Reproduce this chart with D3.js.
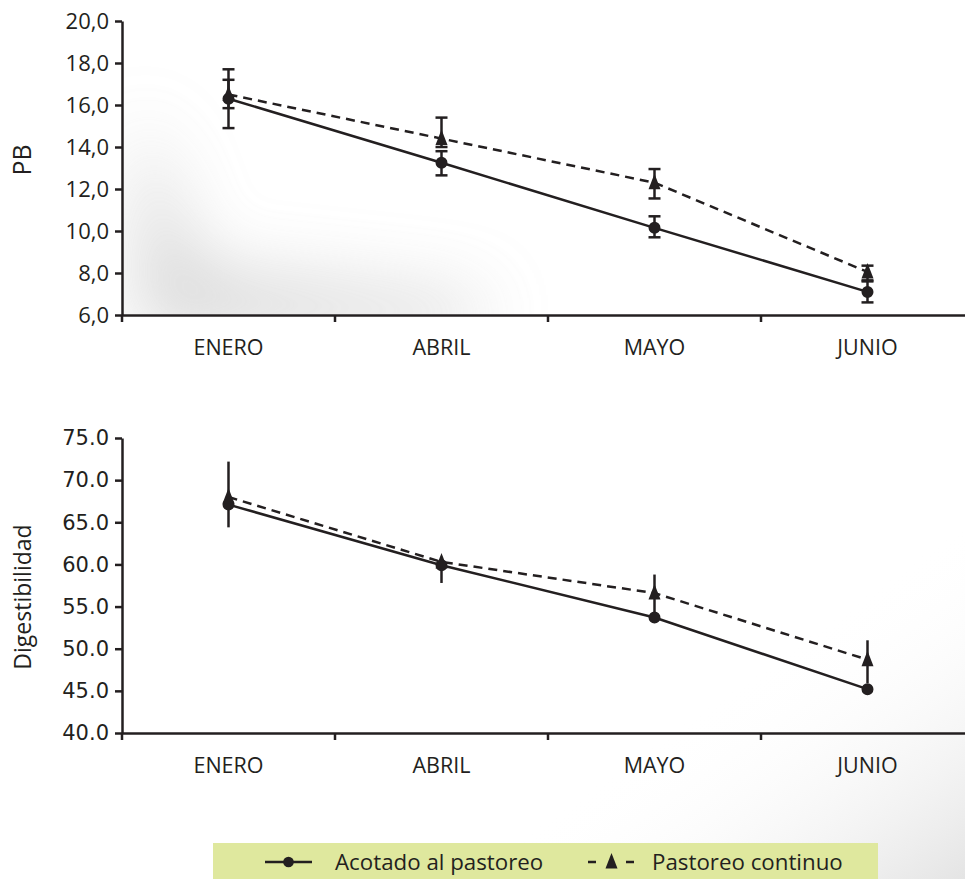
<!DOCTYPE html>
<html lang="es">
<head>
  <meta charset="UTF-8">
  <title>PB y Digestibilidad</title>
  <script src="https://d3js.org/d3.v7.min.js"></script>
  <style>
    body { margin: 0; background: #fff; }
    svg { display: block; }
  </style>
</head>
<body>
  <div id="chart"></div>

  <script>
    // datos
    const categories = ["ENERO", "ABRIL", "MAYO", "JUNIO"];

    const pbTicks = [6, 8, 10, 12, 14, 16, 18, 20];
    const pbAcotado = [16.3, 13.25, 10.15, 7.1];
    const pbAcotadoLo = [14.9, 12.65, 9.7, 6.6];
    const pbAcotadoHi = [17.7, 13.8, 10.7, 7.6];
    const pbContinuo = [16.5, 14.4, 12.3, 8.05];
    const pbContinuoLo = [15.85, 14.0, 11.55, 7.65];
    const pbContinuoHi = [17.2, 15.4, 12.95, 8.35];

    const digTicks = [40, 45, 50, 55, 60, 65, 70, 75];
    const digAcotado = [67.1, 59.9, 53.7, 45.2];
    const digAcotadoLo = [64.4, 57.8, 53.7, 45.2];
    const digAcotadoHi = [67.1, 59.9, 53.7, 45.2];
    const digContinuo = [68.0, 60.3, 56.6, 48.7];
    const digContinuoLo = [68.0, 60.3, 54.3, 45.9];
    const digContinuoHi = [72.2, 60.3, 58.8, 51.0];

    const legendLabels = ["Acotado al pastoreo", "Pastoreo continuo"];

    const width = 965, height = 879;
    const ink = "#231f20";
    const font = "'Open Sans', sans-serif";

    const svg = d3.select("#chart").append("svg")
      .attr("width", width)
      .attr("height", height);

    // sombreado gris de fondo
    const defs = svg.append("defs");
    defs.append("clipPath").attr("id", "plot1")
      .append("rect").attr("x", 124).attr("y", 21).attr("width", 600).attr("height", 293);
    defs.append("filter").attr("id", "blur")
      .attr("x", "-50%").attr("y", "-50%").attr("width", "200%").attr("height", "200%")
      .append("feGaussianBlur").attr("stdDeviation", 35);

    const shade = svg.append("g").attr("clip-path", "url(#plot1)");
    shade.append("path")
      .attr("d", "M140,110 L200,270 L480,300 L480,330 L140,330 Z")
      .attr("fill", "#c4c4c4")
      .attr("opacity", 0.7)
      .attr("filter", "url(#blur)");

    const lg = defs.append("linearGradient").attr("id", "shade2")
      .attr("x1", 0).attr("y1", 0).attr("x2", 1).attr("y2", 1);
    lg.append("stop").attr("offset", "0%").attr("stop-color", "#fff").attr("stop-opacity", 0);
    lg.append("stop").attr("offset", "55%").attr("stop-color", "#fff").attr("stop-opacity", 0);
    lg.append("stop").attr("offset", "100%").attr("stop-color", "#e4e4e4");
    svg.append("rect")
      .attr("x", 400).attr("y", 480).attr("width", 565).attr("height", 399)
      .attr("fill", "url(#shade2)");

    const x = d3.scaleBand().domain(categories).range([122, 974]);

    const yPB = d3.scaleLinear().domain([6, 20]).range([315, 21]);
    const yDig = d3.scaleLinear().domain([40, 75]).range([733, 438]);

    // triangulo algo mas alto que ancho
    const tri = {
      draw(ctx) {
        ctx.moveTo(0, -9);
        ctx.lineTo(6, 6.5);
        ctx.lineTo(-6, 6.5);
        ctx.closePath();
      }
    };

    function drawPanel(y, ticks, fmt, tickFont, tickSize, series, caps, axisLabel, labelY, labelSize) {
      const g = svg.append("g");

      // eje y
      const yAxis = d3.axisLeft(y).tickValues(ticks).tickFormat(fmt)
        .tickSize(7).tickSizeOuter(0).tickPadding(6);
      const ya = g.append("g").attr("transform", "translate(122,0)").call(yAxis);
      ya.select(".domain").attr("stroke", ink).attr("stroke-width", 2.5);
      ya.selectAll(".tick line").attr("stroke", ink).attr("stroke-width", 2.5);
      ya.selectAll(".tick text").attr("fill", ink)
        .style("font-family", tickFont).style("font-size", tickSize);

      // eje x
      const y0 = y.range()[0];
      const xAxis = d3.axisBottom(x).tickSize(0).tickPadding(25);
      const xa = g.append("g").attr("transform", `translate(0,${y0})`).call(xAxis);
      xa.select(".domain").attr("stroke", ink).attr("stroke-width", 2.5);
      xa.selectAll(".tick text").attr("fill", ink)
        .style("font-family", font).style("font-size", "21.5px");
      g.selectAll(".xtick")
        .data(categories)
        .enter()
        .append("line")
        .attr("class", "xtick")
        .attr("x1", d => x(d)).attr("x2", d => x(d))
        .attr("y1", y0).attr("y2", y0 + 7)
        .attr("stroke", ink).attr("stroke-width", 2.5);

      g.append("text")
        .attr("transform", `translate(31,${labelY}) rotate(-90)`)
        .attr("text-anchor", "middle")
        .attr("fill", ink)
        .style("font-family", font).style("font-size", labelSize)
        .text(axisLabel);

      series.forEach(s => {
        const pts = categories.map((c, i) => ({ c, v: s.values[i], lo: s.lo[i], hi: s.hi[i] }));
        const line = d3.line().x(d => x(d.c) + x.bandwidth() / 2).y(d => y(d.v));

        g.append("path")
          .attr("fill", "none")
          .attr("stroke", ink)
          .attr("stroke-width", 2.5)
          .attr("stroke-dasharray", s.dashed ? "9,6" : null)
          .attr("d", line(pts));

        const eb = g.selectAll(null).data(pts).enter().append("g")
          .attr("transform", d => `translate(${x(d.c) + x.bandwidth() / 2},0)`);
        eb.append("line")
          .attr("y1", d => y(d.lo)).attr("y2", d => y(d.hi))
          .attr("stroke", ink).attr("stroke-width", 2.5);
        if (caps) {
          eb.append("line").attr("x1", -6).attr("x2", 6)
            .attr("y1", d => y(d.lo)).attr("y2", d => y(d.lo))
            .attr("stroke", ink).attr("stroke-width", 2.5);
          eb.append("line").attr("x1", -6).attr("x2", 6)
            .attr("y1", d => y(d.hi)).attr("y2", d => y(d.hi))
            .attr("stroke", ink).attr("stroke-width", 2.5);
        }
      });

      series.forEach(s => {
        const pts = categories.map((c, i) => ({ c, v: s.values[i] }));
        g.selectAll(null).data(pts).enter().append("path")
          .attr("transform", d => `translate(${x(d.c) + x.bandwidth() / 2},${y(d.v)})`)
          .attr("fill", ink)
          .attr("d", s.dashed ? d3.symbol(tri)() : d3.symbol(d3.symbolCircle, 113)());
      });
    }

    drawPanel(yPB, pbTicks, d => d.toFixed(1).replace(".", ","), font, "22px", [
      { values: pbAcotado, lo: pbAcotadoLo, hi: pbAcotadoHi, dashed: false },
      { values: pbContinuo, lo: pbContinuoLo, hi: pbContinuoHi, dashed: true }
    ], true, "PB", 160, "25px");

    drawPanel(yDig, digTicks, d => d.toFixed(1), "'DejaVu Sans', sans-serif", "21px", [
      { values: digAcotado, lo: digAcotadoLo, hi: digAcotadoHi, dashed: false },
      { values: digContinuo, lo: digContinuoLo, hi: digContinuoHi, dashed: true }
    ], false, "Digestibilidad", 597, "23px");

    // leyenda
    const leg = svg.append("g");
    leg.append("rect")
      .attr("x", 213).attr("y", 843).attr("width", 665).attr("height", 40)
      .attr("fill", "#dfe89e");
    const legItems = [
      { x: 265, dashed: false },
      { x: 588, dashed: true }
    ];
    legItems.forEach((it, i) => {
      leg.append("line")
        .attr("x1", it.x).attr("x2", it.x + 47)
        .attr("y1", 862).attr("y2", 862)
        .attr("stroke", ink).attr("stroke-width", 2.5)
        .attr("stroke-dasharray", it.dashed ? "8,30" : null);
      leg.append("path")
        .attr("transform", `translate(${it.x + 23.5},862)`)
        .attr("fill", ink)
        .attr("d", it.dashed ? d3.symbol(tri)() : d3.symbol(d3.symbolCircle, 90)());
      leg.append("text")
        .attr("x", it.dashed ? 652 : 335).attr("y", 870)
        .attr("fill", ink)
        .style("font-family", font).style("font-size", "22.3px")
        .text(legendLabels[i]);
    });
  </script>
</body>
</html>
